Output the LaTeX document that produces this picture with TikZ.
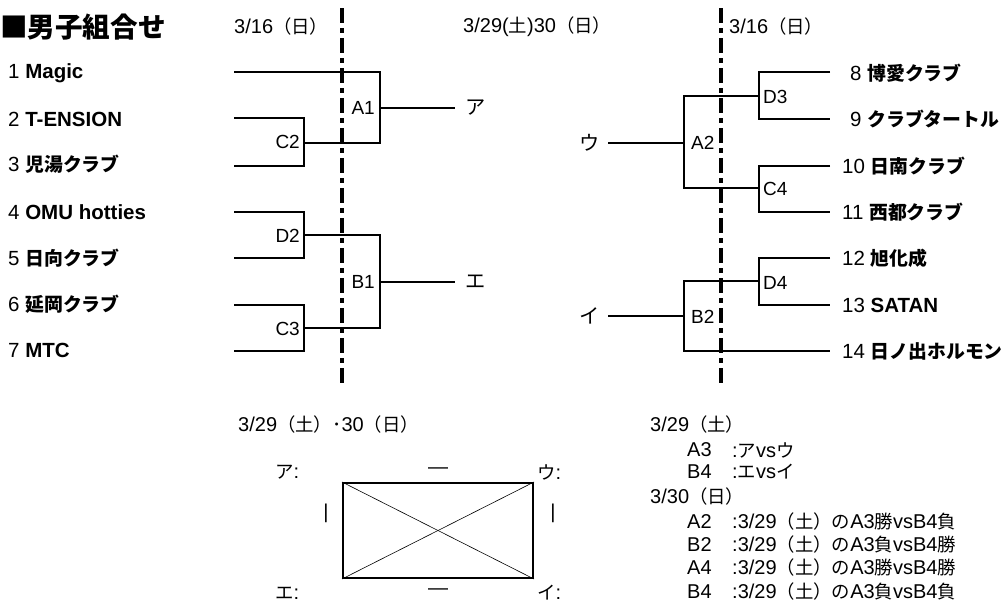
\documentclass[tikz,border=0pt]{standalone}
\usepackage{fontspec}
\setmainfont{Liberation Sans}
\newfontfamily\jpf[Scale=0.92]{Noto Sans CJK JP}
\newcommand\J[1]{{\jpf #1}}
\begin{document}
\begin{tikzpicture}[x=1pt,y=-1pt,
 every node/.style={inner sep=0pt, font=\fontsize{20}{23}\selectfont},
 team/.style={anchor=west, font=\fontsize{20.5}{23}\selectfont},
 mlabl/.style={anchor=east, font=\fontsize{19}{22}\selectfont},
 mlabr/.style={anchor=west, font=\fontsize{19}{22}\selectfont},
 kana/.style={font=\fontsize{22}{24}\selectfont},
 wire/.style={line width=1.6pt},
 dayline/.style={line width=4pt, dash pattern=on 15pt off 5pt on 5pt off 5pt},
 boxline/.style={line width=2pt},
 diag/.style={line width=0.6pt},
]
\useasboundingbox (0,0) rectangle (1007,605);

% title and dates
\node[anchor=west, font=\fontsize{30}{34}\selectfont\bfseries] (title) at (0,27) {\J{■男子組合せ}};
\node[anchor=west] (dL) at (234,27) {3/16\J{（日）}};
\node[anchor=west] (dM) at (463,27) {3/29(\J{土})30\J{（日）}};
\node[anchor=west] (dR) at (729,27) {3/16\J{（日）}};

% left teams
\node[team] (t1) at (8,73) {1 \textbf{Magic}};
\node[team] (t2) at (8,119) {2 \textbf{T-ENSION}};
\node[team] (t3) at (8,164) {3 \textbf{\J{児湯クラブ}}};
\node[team] (t4) at (8,212) {4 \textbf{OMU hotties}};
\node[team] (t5) at (8,258) {5 \textbf{\J{日向クラブ}}};
\node[team] (t6) at (8,304) {6 \textbf{\J{延岡クラブ}}};
\node[team] (t7) at (8,350) {7 \textbf{MTC}};

% right teams
\node[team] (t8) at (850,73) {8 \textbf{\J{博愛クラブ}}};
\node[team] (t9) at (850,119) {9 \textbf{\J{クラブタートル}}};
\node[team] (t10) at (842,166) {10 \textbf{\J{日南クラブ}}};
\node[team] (t11) at (842,212) {11 \textbf{\J{西都クラブ}}};
\node[team] (t12) at (842,258) {12 \textbf{\J{旭化成}}};
\node[team] (t13) at (842,305) {13 \textbf{SATAN}};
\node[team] (t14) at (842,351) {14 \textbf{\J{日ノ出ホルモン}}};

% left bracket coordinates
\coordinate (l1) at (234,72);
\coordinate (l2) at (234,118);
\coordinate (l3) at (234,166);
\coordinate (l4) at (234,212);
\coordinate (l5) at (234,258);
\coordinate (l6) at (234,305);
\coordinate (l7) at (234,351);
\coordinate (c2t) at (304,118);
\coordinate (c2b) at (304,166);
\coordinate (c2o) at (304,143);
\coordinate (d2t) at (304,212);
\coordinate (d2b) at (304,258);
\coordinate (d2o) at (304,235);
\coordinate (c3t) at (304,305);
\coordinate (c3b) at (304,351);
\coordinate (c3o) at (304,328);
\coordinate (a1t) at (380,72);
\coordinate (a1b) at (380,143);
\coordinate (a1o) at (380,108);
\coordinate (b1t) at (380,235);
\coordinate (b1b) at (380,328);
\coordinate (b1o) at (380,282);

\node[kana, anchor=west] (ka) at (465,108) {\J{ア}};
\node[kana, anchor=west] (ke) at (465,282) {\J{エ}};

\draw[wire] (l1) -- (a1t) -- (a1b) -- (c2o);
\draw[wire] (l2) -- (c2t) -- (c2b) -- (l3);
\draw[wire] (a1o) -- (ka.west -| 455,0);
\draw[wire] (l4) -- (d2t) -- (d2b) -- (l5);
\draw[wire] (l6) -- (c3t) -- (c3b) -- (l7);
\draw[wire] (d2o) -- (b1t) -- (b1b) -- (c3o);
\draw[wire] (b1o) -- (ke.west -| 455,0);

\node[mlabl] (mA1) at (375,108) {A1};
\node[mlabl] (mC2) at (300,142) {C2};
\node[mlabl] (mD2) at (300,236) {D2};
\node[mlabl] (mC3) at (300,329) {C3};
\node[mlabl] (mB1) at (375,282) {B1};

% right bracket coordinates
\coordinate (r8) at (830,72);
\coordinate (r9) at (830,119);
\coordinate (r10) at (830,166);
\coordinate (r11) at (830,212);
\coordinate (r12) at (830,258);
\coordinate (r13) at (830,305);
\coordinate (r14) at (830,351);
\coordinate (d3t) at (759,72);
\coordinate (d3b) at (759,119);
\coordinate (d3o) at (759,96);
\coordinate (c4t) at (759,166);
\coordinate (c4b) at (759,212);
\coordinate (c4o) at (759,188);
\coordinate (d4t) at (759,258);
\coordinate (d4b) at (759,305);
\coordinate (d4o) at (759,281);
\coordinate (a2t) at (684,96);
\coordinate (a2b) at (684,188);
\coordinate (a2i) at (684,143);
\coordinate (b2t) at (684,281);
\coordinate (b2b) at (684,351);
\coordinate (b2i) at (684,316);

\node[kana, anchor=east] (ku) at (600,143) {\J{ウ}};
\node[kana, anchor=east] (ki) at (600,316) {\J{イ}};

\draw[wire] (r8) -- (d3t) -- (d3b) -- (r9);
\draw[wire] (r10) -- (c4t) -- (c4b) -- (r11);
\draw[wire] (r12) -- (d4t) -- (d4b) -- (r13);
\draw[wire] (d3o) -- (a2t) -- (a2b) -- (c4o);
\draw[wire] (d4o) -- (b2t) -- (b2b) -- (r14);
\draw[wire] (ku.east -| 608,0) -- (a2i);
\draw[wire] (ki.east -| 608,0) -- (b2i);

\node[mlabr] (mD3) at (763,97) {D3};
\node[mlabr] (mC4) at (763,189) {C4};
\node[mlabr] (mD4) at (763,283) {D4};
\node[mlabr] (mA2) at (691,143) {A2};
\node[mlabr] (mB2) at (691,317) {B2};

% day separators
\coordinate (sLt) at (342,8);
\coordinate (sLb) at (342,386);
\coordinate (sRt) at (721,8);
\coordinate (sRb) at (721,386);
\draw[dayline] (sLt) -- (sLb);
\draw[dayline] (sRt) -- (sRb);

% bottom left: league table
\node[anchor=west] (bd) at (238,425) {3/29\J{（土）･}30\J{（日）}};
\node[anchor=west] (pA) at (275,472) {\J{ア}:};
\node (hTop) at (438,471) {—};
\node[anchor=west] (pU) at (537,472) {\J{ウ}:};
\node (vL) at (326,513) {|};
\node (vR) at (553,513) {|};
\node[anchor=west] (pE) at (275,593) {\J{エ}:};
\node (hBot) at (438,592) {—};
\node[anchor=west] (pI) at (537,593) {\J{イ}:};
\node[draw, boxline, minimum width=190pt, minimum height=95pt, anchor=north west] (tbl) at (342,482) {};
\draw[diag] (tbl.north west) -- (tbl.south east);
\draw[diag] (tbl.north east) -- (tbl.south west);

% bottom right: schedule
\node[anchor=west] (s1) at (650,425) {3/29\J{（土）}};
\node[anchor=west] (s2a) at (687,450) {A3};
\node[anchor=west] (s2b) at (732,450) {:\J{ア}vs\J{ウ}};
\node[anchor=west] (s3a) at (687,472) {B4};
\node[anchor=west] (s3b) at (732,472) {:\J{エ}vs\J{イ}};
\node[anchor=west] (s4) at (650,497) {3/30\J{（日）}};
\node[anchor=west] (s5a) at (687,522) {A2};
\node[anchor=west] (s5b) at (732,522) {:3/29\J{（土）の}A3\J{勝}vsB4\J{負}};
\node[anchor=west] (s6a) at (687,545) {B2};
\node[anchor=west] (s6b) at (732,545) {:3/29\J{（土）の}A3\J{負}vsB4\J{勝}};
\node[anchor=west] (s7a) at (687,568) {A4};
\node[anchor=west] (s7b) at (732,568) {:3/29\J{（土）の}A3\J{勝}vsB4\J{勝}};
\node[anchor=west] (s8a) at (687,592) {B4};
\node[anchor=west] (s8b) at (732,592) {:3/29\J{（土）の}A3\J{負}vsB4\J{負}};
\end{tikzpicture}
\end{document}
